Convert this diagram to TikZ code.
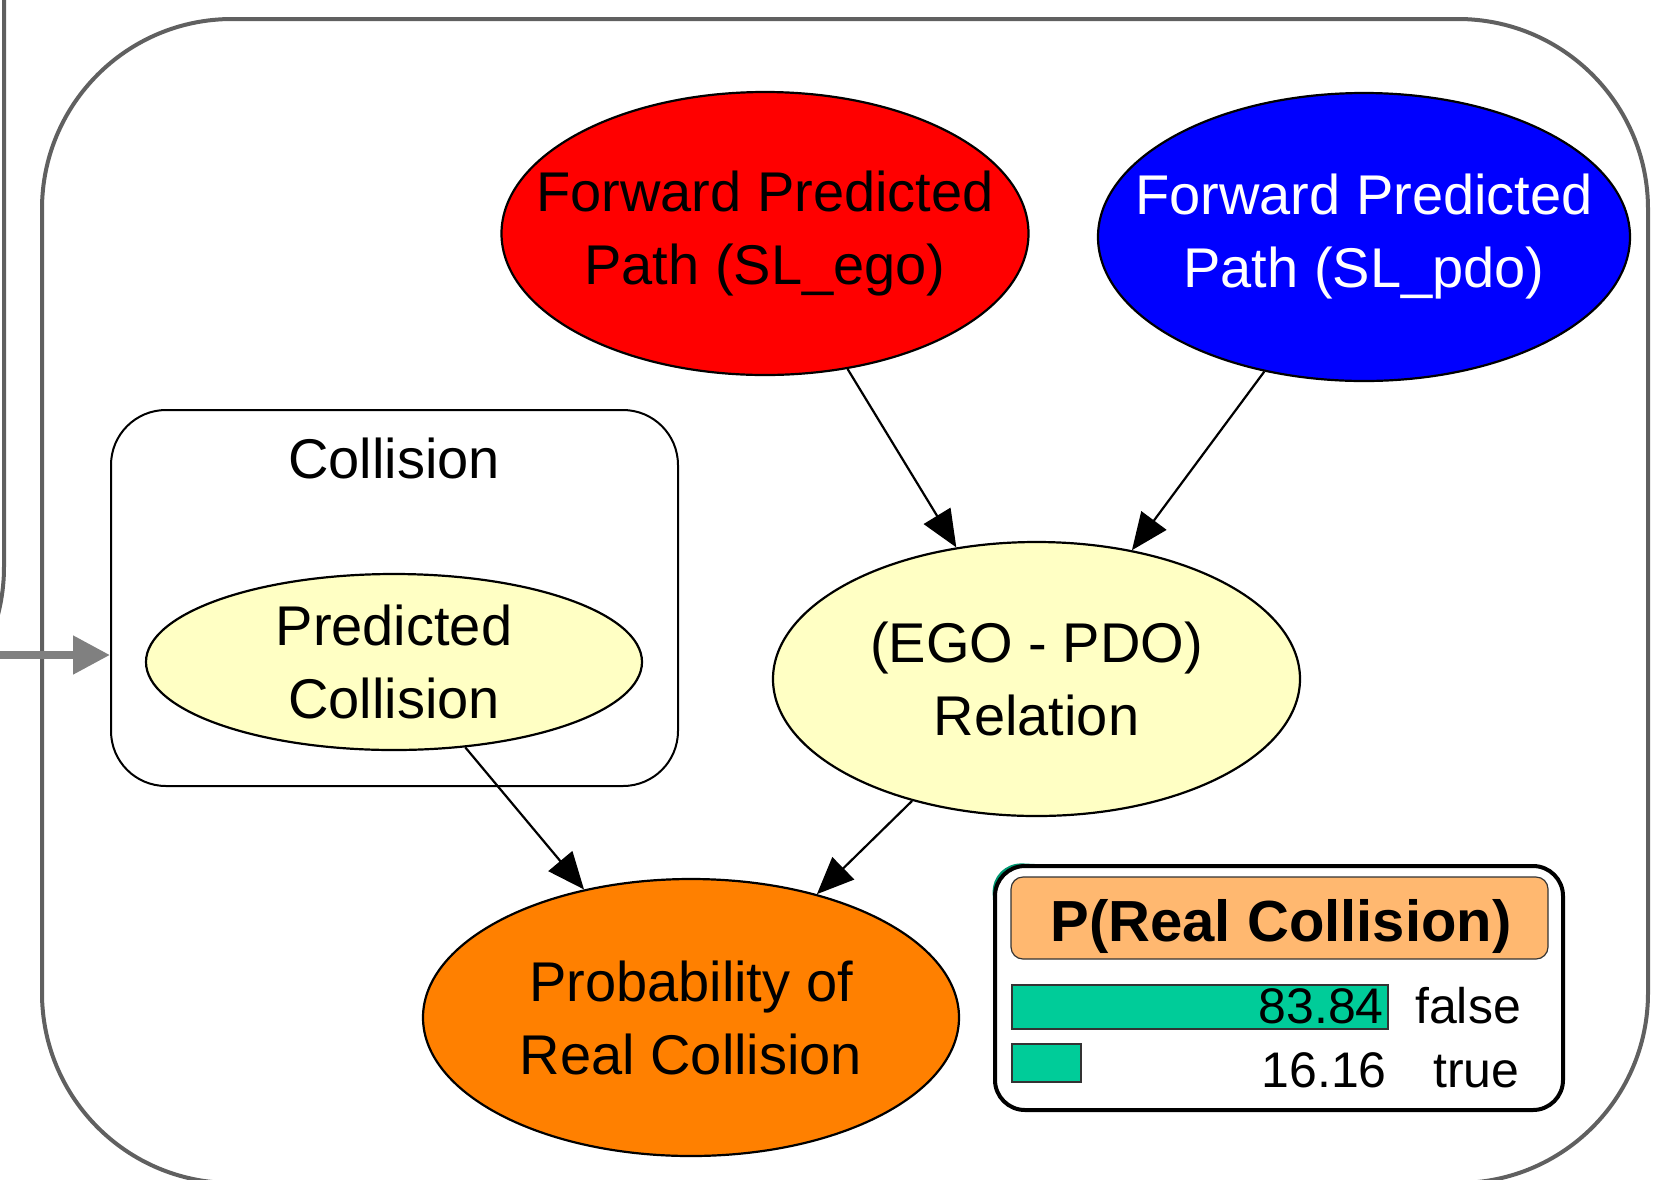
\documentclass[tikz,border=0pt]{standalone}
\usepackage{fontspec}
\setmainfont{Liberation Sans}
\usetikzlibrary{arrows.meta,shapes.geometric}
\definecolor{framegray}{HTML}{606060}
\definecolor{arrowgray}{HTML}{808080}
\definecolor{nodered}{HTML}{FF0000}
\definecolor{nodeblue}{HTML}{0000FF}
\definecolor{nodeyellow}{HTML}{FFFFC4}
\definecolor{nodeorange}{HTML}{FF8000}
\definecolor{hdrorange}{HTML}{FFB870}
\definecolor{bargreen}{HTML}{00CC99}
\definecolor{shadowteal}{HTML}{009973}
\begin{document}
\begin{tikzpicture}[x=1pt,y=-1pt,
  ell/.style={ellipse, draw=black, line width=2.2pt, inner sep=0pt},
  lbl/.style={align=center, inner sep=0pt, font=\fontsize{56}{73}\selectfont},
  legtext/.style={inner sep=0pt, font=\fontsize{50}{60}\selectfont},
  edge/.style={line width=2.2pt, draw=black, -{Triangle[length=37pt,width=31pt]}},
  grayarrow/.style={line width=8pt, draw=arrowgray, -{Triangle[length=37pt,width=37pt]}},
  frame/.style={draw=framegray, line width=4pt, rounded corners=190pt},
  bar/.style={fill=bargreen, draw=black!80, line width=1.2pt}
]
\useasboundingbox (0,0) rectangle (1660,1179);
\clip (0,0) rectangle (1660,1179);

% partial frame at the left and main frame
\draw[frame] (-600,-300) rectangle (4,757);
\draw[frame] (42,19) rectangle (1648,1183);

% Collision container
\node[draw=black, line width=2pt, rounded corners=55pt, minimum width=567pt,
      minimum height=376pt, inner sep=0pt] (colbox) at (394.5,598) {};
\node[lbl] (coltitle) at (394,458) {Collision};

% ellipses
\node[ell, fill=nodered, minimum width=527pt, minimum height=283pt] (red) at (765,233.5) {};
\node[lbl] (redt) at (red) {Forward Predicted\\Path (SL\_ego)};

\node[ell, fill=nodeblue, minimum width=532pt, minimum height=288pt] (blue) at (1364,237) {};
\node[lbl, text=white] (bluet) at (blue) {Forward Predicted\\Path (SL\_pdo)};

\node[ell, fill=nodeyellow, minimum width=527pt, minimum height=274pt] (ego) at (1036.5,679) {};
\node[lbl] (egot) at (ego) {(EGO - PDO)\\Relation};

\node[ell, fill=nodeyellow, minimum width=496pt, minimum height=176pt] (pred) at (394,662) {};
\node[lbl] (predt) at (pred) {Predicted\\Collision};

\node[ell, fill=nodeorange, minimum width=536pt, minimum height=277pt] (real) at (691,1017.5) {};
\node[lbl] (realt) at (real) {Probability of\\Real Collision};

% connectors
\draw[edge] (red) -- (ego);
\draw[edge] (blue) -- (ego);
\draw[edge] (pred) -- (real);
\draw[edge] (ego) -- (real);

\coordinate (ext) at (-10,655);
\draw[grayarrow] (ext) -- (ext -| colbox.west);

% legend
\draw[shadowteal, line width=4pt, rounded corners=30pt] (995,900) -- (993,864) -- (1035,866);
\node[draw=black, fill=white, line width=4pt, rounded corners=30pt, minimum width=568pt,
      minimum height=244pt, inner sep=0pt] (legend) at (1279,988) {};
\node[draw=black!80, fill=hdrorange, line width=1.2pt, rounded corners=12pt, minimum width=537pt,
      minimum height=82pt, inner sep=0pt] (header) at (1279.5,918) {};
\node[inner sep=0pt, anchor=base, font=\bfseries\fontsize{58}{70}\selectfont] (headert) at (1281,941) {P(Real Collision)};
\node[bar, minimum width=376pt, minimum height=44pt, inner sep=0pt] (barfalse) at (1200,1007) {};
\node[bar, minimum width=69pt, minimum height=38pt, inner sep=0pt] (bartrue) at (1046.5,1063) {};
\node[legtext, anchor=base east] (vfalse) at (1384,1023) {83.84};
\node[legtext, anchor=base west] (lfalse) at (1415,1023) {false};
\node[legtext, anchor=base east] (vtrue) at (1387,1087) {16.16};
\node[legtext, anchor=base west] (ltrue) at (1433,1087) {true};
\end{tikzpicture}
\end{document}
